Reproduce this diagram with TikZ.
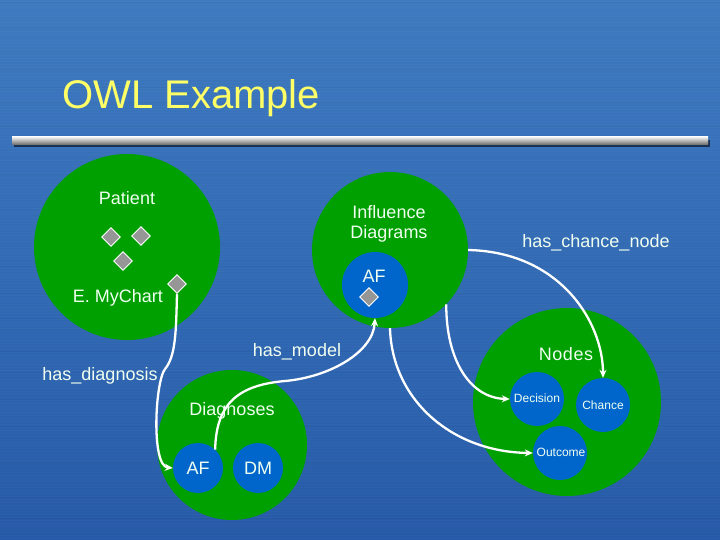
\documentclass[tikz,border=0pt]{standalone}
\usepackage{fontspec}
\setmainfont{Liberation Sans}
\usetikzlibrary{shapes.geometric,arrows.meta}
\definecolor{bgtop}{RGB}{62,122,192}
\definecolor{bgbot}{RGB}{38,90,168}
\definecolor{grn}{RGB}{0,160,0}
\definecolor{blu}{RGB}{0,102,204}
\definecolor{dia}{RGB}{150,150,150}
\definecolor{ttl}{RGB}{255,255,102}
\definecolor{lbl}{RGB}{240,255,240}
\tikzset{
  gcirc/.style={circle,fill=grn,inner sep=0pt,draw=none},
  bcirc/.style={circle,fill=blu,inner sep=0pt,draw=none},
  gem/.style={diamond,fill=dia,draw=white,line width=0.9pt,inner sep=0pt,minimum size=19pt},
  lab/.style={text=lbl,inner sep=1pt,font=\fontsize{18}{21}\selectfont,align=center},
  small/.style={text=lbl,inner sep=1pt,font=\fontsize{12}{14}\selectfont},
  conn/.style={draw=white,line width=2.3pt,-{Stealth[length=8pt,width=7pt]}},
  plain/.style={draw=white,line width=2.3pt}
}
\begin{document}
\begin{tikzpicture}[x=1pt,y=-1pt]
\useasboundingbox (0,0) rectangle (720,540);
\shade[top color=bgtop,bottom color=bgbot] (0,0) rectangle (720,540);
% faint brushed texture
\foreach \yy in {1,4,...,540}{
  \draw[white,opacity=0.025,line width=0.8pt] (0,\yy) -- (720,\yy);
}
\foreach \yy in {2.5,11,20,29,38,53,71,88,104,127,158,176,211,244,266,293,318,351,372,399,426,463,497,518}{
  \draw[black,opacity=0.03,line width=1pt] (0,\yy) -- (720,\yy);
}
% title
\node[text=ttl,anchor=base west,inner sep=0pt,font=\fontsize{40}{44}\selectfont] (title) at (62,109) {OWL Example};
% separator bar
\fill[black,opacity=0.55] (14,140) rectangle (710,147);
\shade[top color=white!90!gray,bottom color=gray!80!black] (12,137) rectangle (708,145);

% circles
\node[gcirc,minimum size=186pt] (patient) at (127,247) {};
\node[gcirc,minimum size=156pt] (infl) at (390,250) {};
\node[bcirc,minimum size=66pt] (idaf) at (375,285) {};
\node[gcirc,minimum size=150pt] (diag) at (232,445) {};
\node[bcirc,minimum size=50pt] (daf) at (198,468) {};
\node[bcirc,minimum size=50pt] (ddm) at (258,468) {};
\node[gcirc,minimum size=188pt] (nodes) at (567,402) {};
\node[bcirc,minimum size=54pt] (dec) at (537,399) {};
\node[bcirc,minimum size=54pt] (chance) at (603,405) {};
\node[bcirc,minimum size=54pt] (outc) at (560,453) {};

% diamonds
\node[gem] (d1) at (111,237) {};
\node[gem] (d2) at (141,236) {};
\node[gem] (d3) at (123,261) {};
\node[gem] (emd) at (177,284) {};
\node[gem] (afd) at (369,297) {};

% labels
\node[lab] (tpatient) at (127,198) {Patient};
\node[lab] (tinfl) at (389,224) {Influence\\[-1pt]Diagrams};
\node[lab] (tidaf) at (374,276) {AF};
\node[lab] (temc) at (118,298) {E. MyChart};
\node[lab] (tmodel) at (297,352) {has\_model};
\node[lab] (tdiagn) at (100,376) {has\_diagnosis};
\node[lab] (tdiag) at (232,411) {Diagnoses};
\node[lab] (tdaf) at (198,468) {AF};
\node[lab] (tddm) at (258,468) {DM};
\node[lab] (tchn) at (596,243) {has\_chance\_node};
\node[lab] (tnodes) at (566,354) {N\kern0.6pt o\kern0.6pt d\kern0.6pt e\kern0.6pt s};
\node[small] (tdec) at (537,398) {Decision};
\node[small] (tcha) at (603,405) {Chance};
\node[small] (tout) at (561,452) {Outcome};

% connectors
\coordinate (kink) at (165,369);
\coordinate (mid) at (285,381);
\draw[plain] (emd.south) .. controls (176,330) and (176,356) .. (kink);
\draw[conn] (kink) .. controls (155,382) and (151,466) .. (daf.west);
\draw[conn] (daf.47) .. controls (216,402) and (240,385) .. (mid) .. controls (330,377) and (373,352) .. (idaf.south);
\draw[conn] (infl.east) .. controls (560,252) and (603,322) .. (chance.north);
\draw[conn] (infl.-90) .. controls (392,400) and (452,452) .. (outc.west);
\draw[conn] (infl.-44) .. controls (446,360) and (470,398) .. (dec.west);
\end{tikzpicture}
\end{document}
